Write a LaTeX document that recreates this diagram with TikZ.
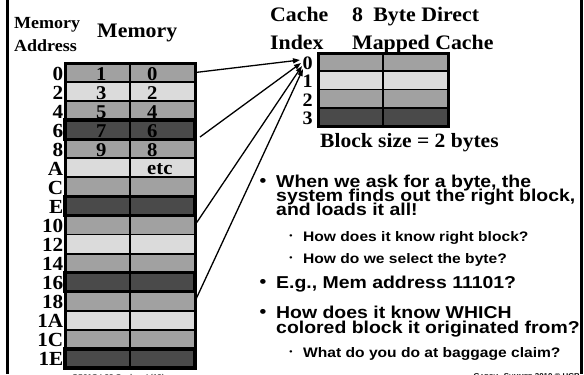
\documentclass[tikz,border=0pt]{standalone}
\usepackage{fontspec}
\setmainfont{Liberation Serif}[FakeStretch=1.06]
\newfontfamily\bsans{Liberation Sans}[FakeStretch=1.13]
\usetikzlibrary{arrows.meta}

\definecolor{cmid}{gray}{0.63}
\definecolor{clight}{gray}{0.86}
\definecolor{cdark}{gray}{0.29}

\begin{document}
\begin{tikzpicture}[x=1bp,y=-1bp,
  cell/.style={draw=black, line width=1.8bp, inner sep=0, outer sep=0,
    minimum width=65bp, minimum height=19.0625bp, anchor=north west},
  ccell/.style={cell, minimum height=18.25bp},
  addr/.style={inner sep=0, anchor=base east, font=\fontsize{20bp}{20bp}\selectfont\bfseries},
  val/.style={inner sep=0, anchor=base west, font=\fontsize{19.5bp}{20bp}\selectfont\bfseries},
  head/.style={inner sep=0, anchor=base west, font=\fontsize{20.6bp}{21bp}\selectfont\bfseries},
  small/.style={inner sep=0, anchor=base west, font=\fontsize{17bp}{18bp}\selectfont\bfseries},
  idx/.style={inner sep=0, anchor=base east, font=\fontsize{19bp}{19bp}\selectfont\bfseries},
  bl/.style={inner sep=0, anchor=base west, font=\bsans\fontsize{17.2bp}{17bp}\selectfont\bfseries},
  sbl/.style={inner sep=0, anchor=base west, font=\bsans\fontsize{13.8bp}{14bp}\selectfont\bfseries},
  dot/.style={inner sep=0, font=\bsans\fontsize{17bp}{17bp}\selectfont\bfseries},
  sdot/.style={inner sep=0, font=\bsans\fontsize{8bp}{8bp}\selectfont\bfseries},
  foot/.style={inner sep=0, font=\bsans\fontsize{7bp}{7bp}\selectfont\bfseries},
  link/.style={line width=1.3bp, -{Triangle[length=7bp,width=5bp]}}
]
\useasboundingbox (0,0) rectangle (584,374);
\clip (0,0) rectangle (584,374);
\fill[white] (0,0) rectangle (584,374);

% slide frame
\draw[line width=2.5bp] (7.5,0) -- (7.5,374);
\draw[line width=2.5bp] (581.5,0) -- (581.5,374);

% memory: 16 rows of two bytes
\foreach \i/\c in {0/cmid,1/clight,2/cmid,3/cdark,4/cmid,5/clight,6/cmid,7/cdark,
                   8/cmid,9/clight,10/cmid,11/cdark,12/cmid,13/clight,14/cmid,15/cdark}{
  \node[cell, fill=\c] (ml\i) at (65, 63+19.0625*\i) {};
  \node[cell, fill=\c] (mr\i) at (130, 63+19.0625*\i) {};
}
\foreach \i in {3,7,11,15}
  \draw[line width=3.4bp] (ml\i.north west) rectangle (mr\i.south east);
\draw[line width=3bp] (ml0.north west) rectangle (mr15.south east);

% memory addresses
\foreach \i/\t in {0/0,1/2,2/4,3/6,4/8,5/A,6/C,7/E,8/10,9/12,10/14,11/16,12/18,13/1A,14/1C,15/1E}
  \node[addr] (ad\i) at (63.5, 80+19.0625*\i) {\t};

% byte contents
\foreach \i/\a/\b in {0/1/0,1/3/2,2/5/4,3/7/6,4/9/8}{
  \node[val] (vl\i) at (96, 80+19.0625*\i) {\a};
  \node[val] (vr\i) at (147, 80+19.0625*\i) {\b};
}
\node[val] (etc) at (147, 174) {etc};

% headings
\node[small] (mema) at (14,28) {Memory};
\node[small] (memb) at (14,51) {Address};
\node[head] (memh) at (97,37) {Memory};
\node[head] (cia) at (270,21) {Cache};
\node[head] (cib) at (270,49) {Index};
\node[head] (dma) at (352,21) {8\hspace{0.5em}Byte Direct};
\node[head] (dmb) at (352,49) {Mapped Cache};

% cache: 4 blocks of two bytes
\foreach \k/\c in {0/cmid,1/clight,2/cmid,3/cdark}{
  \node[ccell, fill=\c] (cl\k) at (318, 53+18.25*\k) {};
  \node[ccell, fill=\c] (cr\k) at (383, 53+18.25*\k) {};
}
\draw[line width=3bp] (cl0.north west) rectangle (cr3.south east);
\foreach \k in {0,1,2,3}
  \node[idx] (ix\k) at (313, 69+18.5*\k) {\k};
\node[head, font=\fontsize{20.3bp}{20bp}\selectfont\bfseries] (bsize) at (320,147) {Block size = 2 bytes};

% memory blocks that map to cache index 0
\coordinate (t0) at (300,60);
\coordinate (t1) at (301,63);
\coordinate (t2) at (302,66);
\coordinate (t3) at (303,69);
\coordinate (s1) at (200,137);
\draw[link] (mr0.east) -- (t0);
\draw[link] (s1) -- (t1);
\draw[link] (mr8.east) -- (t2);
\draw[link] (mr12.east) -- (t3);

% bullet points
\node[dot] (b1) at (263,182) {•};
\node[bl] (l1) at (276,187) {When we ask for a byte, the};
\node[bl] (l2) at (276,201) {system finds out the right block,};
\node[bl] (l3) at (276,215) {and loads it all!};
\node[sdot] (d1) at (291,237) {•};
\node[sbl] (s1t) at (303,241) {How does it know right block?};
\node[sdot] (d2) at (291,259) {•};
\node[sbl] (s2t) at (303,263) {How do we select the byte?};
\node[dot] (b2) at (263,283) {•};
\node[bl] (l4) at (276,288) {E.g., Mem address 11101?};
\node[dot] (b3) at (263,313) {•};
\node[bl] (l5) at (276,318) {How does it know WHICH};
\node[bl] (l6) at (276,333) {colored block it originated from?};
\node[sdot] (d3) at (291,353) {•};
\node[sbl] (s3t) at (303,357) {What do you do at baggage claim?};

% footer, running off the bottom edge
\node[foot, anchor=base west, text=black!70] (fl) at (72,379.5) {CS61C L22 Caches I (13)};
\node[foot, anchor=base east] (fr) at (580,378) {G{\fontsize{5.5bp}{6bp}\selectfont ARCIA}, S{\fontsize{5.5bp}{6bp}\selectfont UMMER} 2010 © UCB};
\end{tikzpicture}
\end{document}
